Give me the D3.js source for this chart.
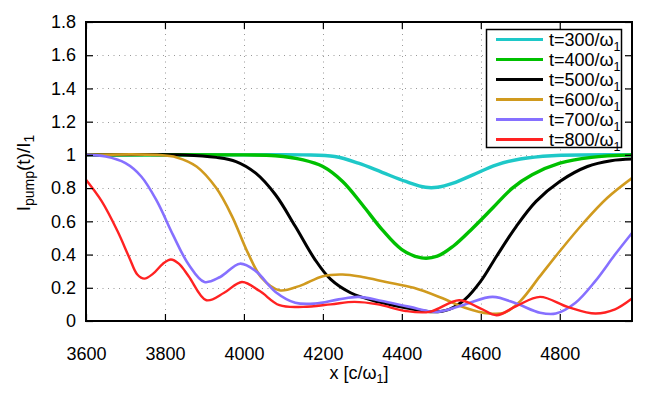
<!DOCTYPE html>
<html>
<head>
<meta charset="utf-8">
<script src="https://cdn.jsdelivr.net/npm/d3@7"></script>
<style>
  body { margin: 0; background: #fff; }
  svg { font-family: "Liberation Sans", Arial, sans-serif; }
</style>
</head>
<body>
<div class="chart"><svg></svg></div>
<script>
// values: [x, I_pump/I_1]
var t300 = [[3600,1.0],[4000,1.0],[4150,1.0],[4230,0.99],[4290,0.95],[4350,0.895],[4410,0.84],[4460,0.805],[4490,0.805],[4530,0.83],[4580,0.88],[4640,0.94],[4700,0.975],[4780,0.995],[4983,1.0]];
var t400 = [[3600,1.0],[4000,1.0],[4080,0.995],[4150,0.97],[4200,0.93],[4250,0.84],[4300,0.70],[4350,0.55],[4400,0.43],[4450,0.38],[4490,0.39],[4530,0.45],[4580,0.56],[4630,0.68],[4680,0.80],[4730,0.88],[4800,0.95],[4880,0.985],[4983,1.0]];
var t500 = [[3600,1.0],[3850,1.0],[3930,0.985],[3980,0.96],[4030,0.89],[4080,0.76],[4130,0.57],[4180,0.37],[4220,0.25],[4270,0.17],[4340,0.115],[4420,0.075],[4480,0.055],[4520,0.07],[4560,0.13],[4600,0.24],[4640,0.39],[4690,0.57],[4740,0.72],[4800,0.84],[4870,0.93],[4930,0.965],[4983,0.975]];
var t600 = [[3600,1.0],[3780,1.0],[3830,0.985],[3880,0.93],[3930,0.80],[3970,0.63],[4010,0.41],[4045,0.26],[4090,0.185],[4140,0.21],[4200,0.27],[4250,0.28],[4300,0.265],[4360,0.235],[4430,0.20],[4500,0.14],[4560,0.08],[4620,0.045],[4660,0.05],[4700,0.12],[4750,0.27],[4800,0.42],[4860,0.59],[4920,0.74],[4983,0.86]];
var t700 = [[3600,1.0],[3650,0.99],[3700,0.95],[3740,0.87],[3780,0.72],[3820,0.52],[3860,0.34],[3900,0.235],[3940,0.265],[3990,0.345],[4030,0.30],[4080,0.175],[4130,0.11],[4180,0.105],[4240,0.13],[4290,0.145],[4350,0.12],[4420,0.085],[4490,0.055],[4560,0.10],[4630,0.145],[4690,0.105],[4750,0.05],[4790,0.045],[4840,0.11],[4890,0.24],[4940,0.40],[4983,0.53]];
var t800 = [[3600,0.85],[3640,0.72],[3680,0.54],[3710,0.38],[3730,0.28],[3748,0.255],[3770,0.285],[3795,0.345],[3815,0.37],[3835,0.345],[3860,0.27],[3905,0.125],[3950,0.17],[3995,0.235],[4040,0.18],[4090,0.095],[4150,0.085],[4220,0.10],[4280,0.115],[4340,0.10],[4410,0.06],[4470,0.055],[4545,0.125],[4600,0.075],[4640,0.035],[4690,0.09],[4750,0.145],[4820,0.085],[4890,0.045],[4940,0.07],[4983,0.135]];

var seriesNames = ["t=300/ω", "t=400/ω", "t=500/ω", "t=600/ω", "t=700/ω", "t=800/ω"];
var seriesData = [t300, t400, t500, t600, t700, t800];
var colors = ["#1ec8c8", "#00c000", "#000000", "#d09a1e", "#8670ff", "#ff2222"];
var widths = [3.4, 3.4, 3, 2.6, 2.6, 2.4];

var xTicks = [3600, 3800, 4000, 4200, 4400, 4600, 4800];
var yTicks = [0, 0.2, 0.4, 0.6, 0.8, 1, 1.2, 1.4, 1.6, 1.8];

var width = 664, height = 406;
var pLeft = 86, pRight = 632, pTop = 22, pBottom = 321;

var svg = d3.select("svg")
    .attr("width", width)
    .attr("height", height);

var xScale = d3.scaleLinear().domain([3600, 4983]).range([pLeft, pRight]);
var yScale = d3.scaleLinear().domain([0, 1.8]).range([pBottom, pTop]);

svg.append("defs").append("clipPath").attr("id", "clip")
    .append("rect")
    .attr("x", pLeft).attr("y", pTop)
    .attr("width", pRight - pLeft).attr("height", pBottom - pTop);

// grid
var grid = svg.append("g").attr("stroke", "#999").attr("stroke-width", 1).attr("stroke-dasharray", "1,4.5");
grid.selectAll(".gx").data(xTicks.slice(1)).enter().append("line")
    .attr("x1", function(d){ return Math.round(xScale(d)) + 0.5; })
    .attr("x2", function(d){ return Math.round(xScale(d)) + 0.5; })
    .attr("y1", pBottom).attr("y2", pTop);
grid.selectAll(".gy").data(yTicks.slice(1, -1)).enter().append("line")
    .attr("y1", function(d){ return Math.round(yScale(d)) + 0.5; })
    .attr("y2", function(d){ return Math.round(yScale(d)) + 0.5; })
    .attr("x1", pLeft).attr("x2", pRight);

// curves
var line = d3.line()
    .x(function(d){ return xScale(d[0]); })
    .y(function(d){ return yScale(d[1]); })
    .curve(d3.curveCatmullRom.alpha(0.5));

var plot = svg.append("g").attr("clip-path", "url(#clip)");
seriesData.forEach(function(s, i){
    plot.append("path")
        .datum(s)
        .attr("fill", "none")
        .attr("stroke", colors[i])
        .attr("stroke-width", widths[i])
        .attr("stroke-linejoin", "round")
        .attr("d", line);
});

// axes, ticks inward and mirrored
var xAxis = d3.axisBottom(xScale).tickValues(xTicks).tickSize(-7).tickPadding(26).tickFormat(d3.format("d"));
var yAxis = d3.axisLeft(yScale).tickValues(yTicks).tickSize(-7).tickPadding(10).tickFormat(function(d){ return String(+d.toFixed(1)); });

svg.append("g").attr("transform", "translate(0," + pBottom + ")").call(xAxis);
svg.append("g").attr("transform", "translate(" + pLeft + ",0)").call(yAxis);
svg.append("g").attr("transform", "translate(0," + pTop + ")")
    .call(d3.axisTop(xScale).tickValues(xTicks).tickSize(-7).tickFormat(""));
svg.append("g").attr("transform", "translate(" + pRight + ",0)")
    .call(d3.axisRight(yScale).tickValues(yTicks).tickSize(-7).tickFormat(""));

svg.selectAll(".domain").remove();
svg.selectAll(".tick line").attr("stroke", "#000").attr("stroke-width", 1.2);
svg.selectAll(".tick text").attr("font-size", 18).attr("fill", "#000")
    .attr("font-family", "Liberation Sans, Arial, sans-serif");

svg.append("rect")
    .attr("x", pLeft).attr("y", pTop)
    .attr("width", pRight - pLeft).attr("height", pBottom - pTop)
    .attr("fill", "none").attr("stroke", "#000").attr("stroke-width", 2);

// legend
var legend = svg.append("g");
legend.append("rect")
    .attr("x", 486.5).attr("y", 29.5).attr("width", 135).attr("height", 118)
    .attr("fill", "#fff").attr("stroke", "#000").attr("stroke-width", 1.5);
seriesNames.forEach(function(name, i){
    var y = 39.5 + i * 20;
    legend.append("line")
        .attr("x1", 496).attr("x2", 543).attr("y1", y).attr("y2", y)
        .attr("stroke", colors[i]).attr("stroke-width", 3);
    var t = legend.append("text").attr("x", 549).attr("y", y + 6).attr("font-size", 18);
    t.append("tspan").text(name);
    t.append("tspan").attr("font-size", 12.5).attr("dy", 5).text("1");
});

// axis labels
var xl = svg.append("text").attr("x", 359).attr("y", 379).attr("text-anchor", "middle").attr("font-size", 18);
xl.append("tspan").text("x [c/ω");
xl.append("tspan").attr("font-size", 12.5).attr("dy", 4).text("1");
xl.append("tspan").attr("dy", -4).text("]");

var yl = svg.append("text").attr("transform", "translate(30,173) rotate(-90)").attr("text-anchor", "middle").attr("font-size", 19);
yl.append("tspan").text("I");
yl.append("tspan").attr("font-size", 14).attr("dy", 4).text("pump");
yl.append("tspan").attr("dy", -4).text("(t)/I");
yl.append("tspan").attr("font-size", 14).attr("dy", 4).text("1");
</script>
</body>
</html>
